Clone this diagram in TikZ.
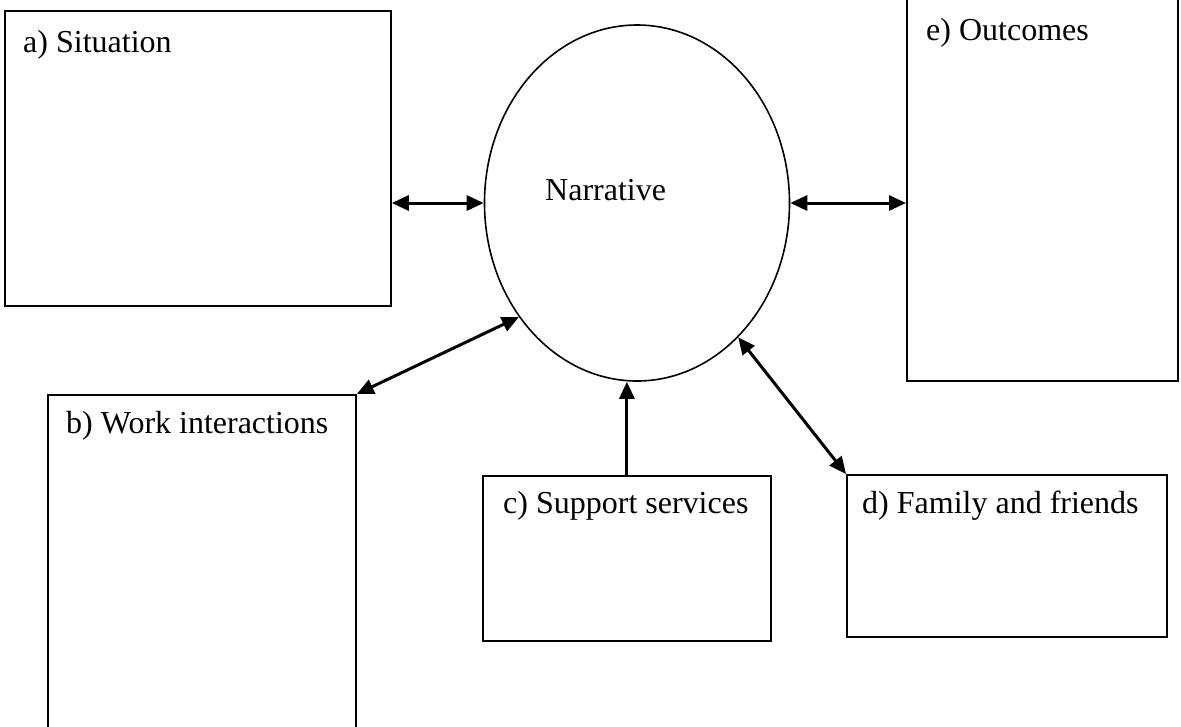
\documentclass[tikz,border=0pt]{standalone}
\usepackage{fontspec}
\setmainfont{Liberation Serif}
\usetikzlibrary{shapes.geometric,arrows.meta}
\tikzset{
  box/.style={draw, line width=1.8pt, rectangle, inner sep=0pt, anchor=north west},
  lbl/.style={anchor=base west, inner sep=0pt, font=\fontsize{32}{38}\selectfont},
  conn/.style={line width=3pt, {Triangle[length=17pt,width=15pt]}-{Triangle[length=17pt,width=15pt]}},
  oneway/.style={line width=3pt, -{Triangle[length=17pt,width=15pt]}}
}
\begin{document}
\begin{tikzpicture}[x=1pt,y=-1pt]
\useasboundingbox (0,0) rectangle (1181,726);
% boxes
\node[box, minimum width=386pt, minimum height=295pt] (a) at (4,10) {};
\node[box, minimum width=308pt, minimum height=360pt] (b) at (47,394) {};
\node[box, minimum width=288pt, minimum height=165pt] (c) at (482,475) {};
\node[box, minimum width=320pt, minimum height=162pt] (d) at (846,474) {};
\node[box, minimum width=271pt, minimum height=390pt] (e) at (906,-10) {};
% ellipse
\node[draw, ellipse, line width=1.6pt, inner sep=0pt, minimum width=305pt, minimum height=356pt] (n) at (637,203) {};
% labels
\node[lbl] (ta) at (23,52) {a) Situation};
\node[lbl] (tb) at (66,433) {b) Work interactions};
\node[lbl] (tc) at (503,513) {c) Support services};
\node[lbl] (td) at (862,513) {d) Family and friends};
\node[lbl] (te) at (926,40) {e) Outcomes};
\node[lbl] (tn) at (545,200) {Narrative};
% connectors
\draw[conn] (a.east |- n.west) -- (n.west);
\draw[conn] (n.east) -- (n.east -| e.west);
\draw[conn] (b.north east) -- (n.224.5);
\draw[oneway] (c.north) -- (c.north |- n.south);
\draw[conn] (n.307.5) -- (d.north west);
\end{tikzpicture}
\end{document}
